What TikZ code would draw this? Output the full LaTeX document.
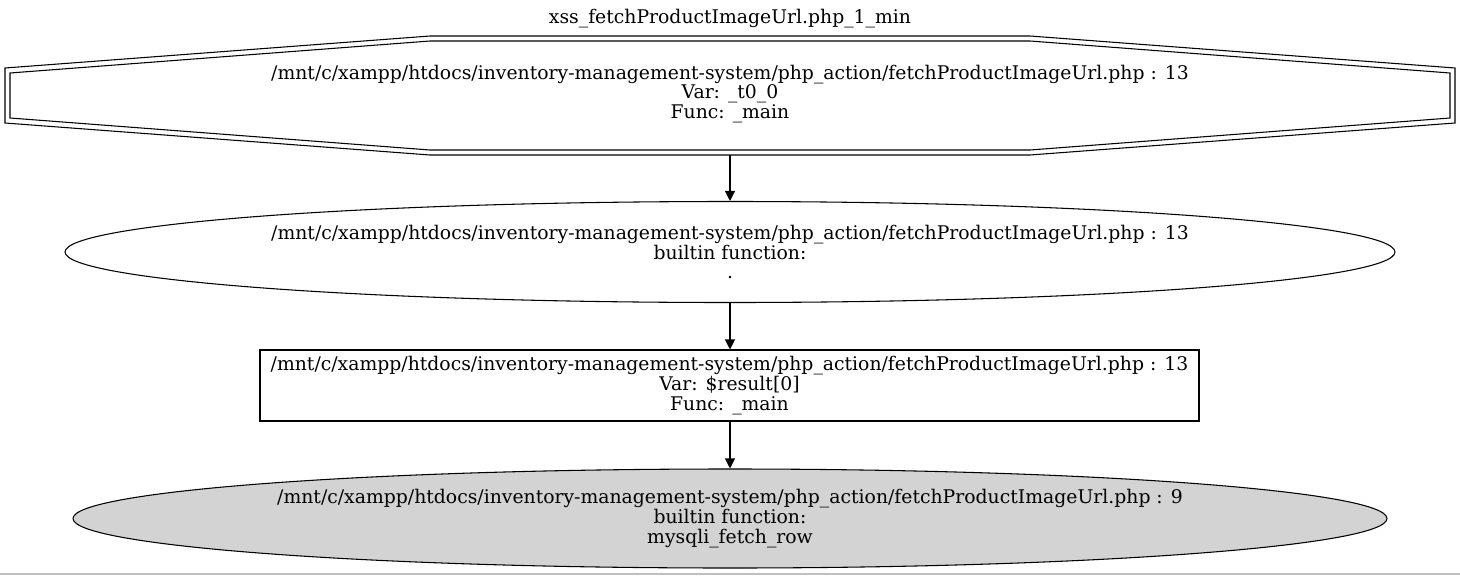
\documentclass[tikz,border=0pt]{standalone}
\usepackage{fontspec}
\setmainfont{DejaVu Serif}
\usetikzlibrary{shapes.geometric}
\usetikzlibrary{arrows.meta}
\definecolor{sinkgray}{RGB}{211,211,211}
\tikzset{
  lbl/.style={align=center, inner sep=0pt, font=\fontsize{14.1}{14.7}\selectfont},
  edge/.style={line width=0.8pt},
  flow/.style={edge, -{Triangle[length=7.5pt,width=7.5pt]}},
}
\newcommand{\octring}[1]{\draw[edge] (5+#1,68+#1) -- (430,36+#1) -- (1030,36+#1) -- (1455-#1,68+#1) -- (1455-#1,123-#1) -- (1030,155-#1) -- (430,155-#1) -- (5+#1,123-#1) -- cycle;}

\begin{document}
\begin{tikzpicture}[x=0.75pt,y=-0.75pt]
\useasboundingbox (0,0) rectangle (1460,575);
% title
\node[lbl] (title) at (730,19) {xss\_fetchProductImageUrl.php\_1\_min};
% source node (double octagon)
\octring{0}
\octring{5}
\node[lbl] (source) at (730,94) {/mnt/c/xampp/htdocs/inventory-management-system/php\_action/fetchProductImageUrl.php : 13\\Var: \_t0\_0\\Func: \_main};
\coordinate (sourcebot) at (730,155);
% builtin concat
\node[lbl, ellipse, draw, edge, minimum width=997.5pt, minimum height=75.75pt] (concat) at (730,252)
  {/mnt/c/xampp/htdocs/inventory-management-system/php\_action/fetchProductImageUrl.php : 13\\builtin function:\\.};
% result variable
\node[lbl, rectangle, draw, edge, minimum width=704.25pt, minimum height=53.25pt] (result) at (729.5,385.5)
  {/mnt/c/xampp/htdocs/inventory-management-system/php\_action/fetchProductImageUrl.php : 13\\Var: \$result[0]\\Func: \_main};
% sink ellipse
\node[lbl, ellipse, draw, edge, fill=sinkgray, minimum width=985.5pt, minimum height=74.25pt] (fetchrow) at (730,518.5)
  {/mnt/c/xampp/htdocs/inventory-management-system/php\_action/fetchProductImageUrl.php : 9\\builtin function:\\mysqli\_fetch\_row};
% edges
\draw[flow] (sourcebot) -- (concat.north);
\draw[flow] (concat.south) -- (concat.south |- result.north);
\draw[flow] (concat.south |- result.south) -- (fetchrow.north);
% bottom rule
\draw[black!25, line width=0.8pt] (0,574) -- (1460,574);
\end{tikzpicture}
\end{document}
